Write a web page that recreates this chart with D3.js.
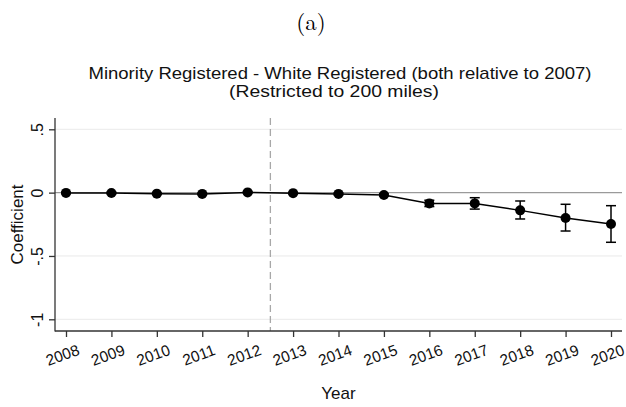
<!DOCTYPE html>
<html>
<head>
<meta charset="utf-8">
<script src="https://cdn.jsdelivr.net/npm/d3@7"></script>
<style>
  body { margin: 0; background: #fff; }
  svg { display: block; font-family: "Liberation Sans", Arial, sans-serif; }
</style>
</head>
<body>
<div id="chart"></div>
<script>
// chart data
const years = [2008, 2009, 2010, 2011, 2012, 2013, 2014, 2015, 2016, 2017, 2018, 2019, 2020];
const coef  = [-0.002, -0.003, -0.008, -0.01, 0.002, -0.004, -0.01, -0.018, -0.085, -0.085, -0.14, -0.2, -0.247];
const ciLow  = [-0.008, -0.009, -0.014, -0.016, -0.004, -0.01, -0.017, -0.026, -0.11, -0.13, -0.208, -0.303, -0.392];
const ciHigh = [0.004, 0.003, -0.002, -0.004, 0.008, 0.002, -0.003, -0.01, -0.06, -0.04, -0.066, -0.092, -0.103];
const yTicks = [0.5, 0, -0.5, -1];
const yTickLabels = [".5", "0", "-.5", "-1"];
const eventYear = 2012.5;

const width = 626, height = 407;
const plot = {left: 55, right: 622, top: 118, bottom: 331};

const svg = d3.select("#chart").append("svg")
    .attr("width", width)
    .attr("height", height);

const x = d3.scaleLinear().domain([2008, 2020]).range([66, 611]);
const y = d3.scaleLinear().domain([-1, 0.5]).range([319.3, 129.3]);

// panel label and title
svg.append("text")
    .attr("x", 311).attr("y", 30)
    .attr("text-anchor", "middle")
    .style("font-family", "'Latin Modern Roman', 'DejaVu Serif', serif")
    .style("font-size", "23px")
    .text("(a)");

const title = svg.append("text")
    .attr("text-anchor", "middle")
    .style("font-size", "17px")
    .attr("fill", "#111");
title.append("tspan").attr("x", 340).attr("y", 79)
    .attr("textLength", 503).attr("lengthAdjust", "spacingAndGlyphs")
    .text("Minority Registered - White Registered (both relative to 2007)");
title.append("tspan").attr("x", 334).attr("y", 97)
    .attr("textLength", 210).attr("lengthAdjust", "spacingAndGlyphs")
    .text("(Restricted to 200 miles)");

// gridlines
svg.append("g").selectAll("line")
    .data(yTicks.filter(d => d !== 0))
    .join("line")
    .attr("x1", plot.left).attr("x2", plot.right)
    .attr("y1", d => y(d)).attr("y2", d => y(d))
    .attr("stroke", "#eaeaea").attr("stroke-width", 1);

// zero reference line
svg.append("line")
    .attr("x1", plot.left).attr("x2", plot.right)
    .attr("y1", y(0)).attr("y2", y(0))
    .attr("stroke", "#9a9a9a").attr("stroke-width", 1.3);

// event line
svg.append("line")
    .attr("x1", x(eventYear)).attr("x2", x(eventYear))
    .attr("y1", plot.top).attr("y2", plot.bottom)
    .attr("stroke", "#a8a8a8").attr("stroke-width", 1.3)
    .attr("stroke-dasharray", "7,4");

// y axis
const yAxis = d3.axisLeft(y).tickValues(yTicks).tickSize(6).tickFormat("");
const yG = svg.append("g").attr("transform", `translate(${plot.left},0)`).call(yAxis);
yG.select(".domain").remove();
yG.append("line").attr("x1", 0).attr("x2", 0)
    .attr("y1", plot.top).attr("y2", plot.bottom + 0.5)
    .attr("stroke", "#333").attr("stroke-width", 1.3);
yG.selectAll(".tick line").attr("stroke", "#333").attr("stroke-width", 1.3);
yG.selectAll(".tick").append("text")
    .attr("transform", "translate(-18,0) rotate(-90)")
    .attr("text-anchor", "middle")
    .attr("dy", "0.35em")
    .attr("fill", "#111")
    .style("font-size", "16px")
    .text((d, i) => yTickLabels[i]);

svg.append("text")
    .attr("transform", `translate(23,${(plot.top + plot.bottom) / 2}) rotate(-90)`)
    .attr("text-anchor", "middle")
    .attr("fill", "#111")
    .style("font-size", "17px")
    .text("Coefficient");

// x axis
const xAxis = d3.axisBottom(x).tickValues(years).tickSize(6).tickFormat("");
const xG = svg.append("g").attr("transform", `translate(0,${plot.bottom})`).call(xAxis);
xG.select(".domain").remove();
xG.append("line").attr("x1", plot.left).attr("x2", plot.right)
    .attr("y1", 0).attr("y2", 0)
    .attr("stroke", "#333").attr("stroke-width", 1.3);
xG.selectAll(".tick line").attr("stroke", "#333").attr("stroke-width", 1.3);
xG.selectAll(".tick").append("text")
    .attr("transform", "translate(-4,24) rotate(-20)")
    .attr("text-anchor", "middle")
    .attr("dy", "0.35em")
    .attr("fill", "#111")
    .style("font-size", "15.5px")
    .text(d => d);

svg.append("text")
    .attr("x", (plot.left + plot.right) / 2).attr("y", 399)
    .attr("text-anchor", "middle")
    .attr("fill", "#111")
    .style("font-size", "17px")
    .text("Year");

// series
const pts = years.map((yr, i) => ({yr, c: coef[i], lo: ciLow[i], hi: ciHigh[i]}));

const bars = svg.append("g").selectAll("g").data(pts).join("g");
bars.append("line")
    .attr("x1", d => x(d.yr)).attr("x2", d => x(d.yr))
    .attr("y1", d => y(d.lo)).attr("y2", d => y(d.hi))
    .attr("stroke", "#000").attr("stroke-width", 1.5);
bars.selectAll(".cap").data(d => [[d.yr, d.lo], [d.yr, d.hi]]).join("line")
    .attr("class", "cap")
    .attr("x1", d => x(d[0]) - 5).attr("x2", d => x(d[0]) + 5)
    .attr("y1", d => y(d[1])).attr("y2", d => y(d[1]))
    .attr("stroke", "#000").attr("stroke-width", 1.5);

svg.append("path")
    .datum(pts)
    .attr("fill", "none")
    .attr("stroke", "#000")
    .attr("stroke-width", 1.5)
    .attr("d", d3.line().x(d => x(d.yr)).y(d => y(d.c)));

svg.append("g").selectAll("circle").data(pts).join("circle")
    .attr("cx", d => x(d.yr)).attr("cy", d => y(d.c))
    .attr("r", 5)
    .attr("fill", "#000");
</script>
</body>
</html>
